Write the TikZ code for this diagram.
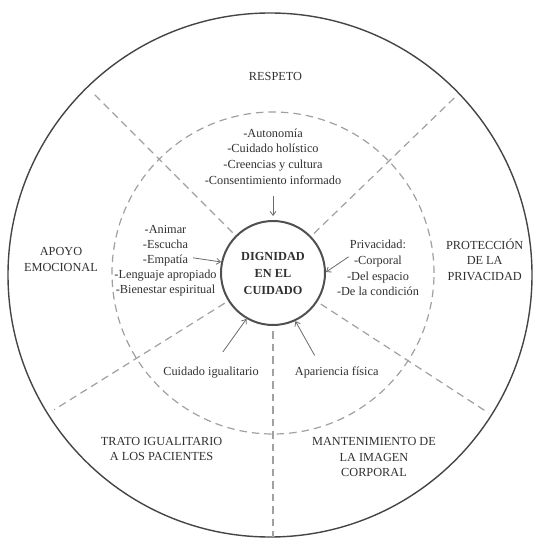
\documentclass[tikz,border=0pt]{standalone}
\usepackage{fontspec}
\setmainfont{Liberation Serif}
\usetikzlibrary{arrows.meta,calc}
\definecolor{txtc}{HTML}{303030}
\definecolor{outc}{HTML}{454545}
\definecolor{innc}{HTML}{505050}
\definecolor{dashc}{HTML}{A0A0A0}
\definecolor{arrc}{HTML}{6A6A6A}
\begin{document}
\begin{tikzpicture}[x=1pt,y=-1pt,
  txt/.style={align=center,text=txtc,font=\fontsize{12.3}{15.6}\selectfont,inner sep=0pt},
  listl/.style={align=center,text=txtc,font=\fontsize{12.3}{14.9}\selectfont,inner sep=0pt},
  dline/.style={draw=dashc,line width=1.2pt,dash pattern=on 7.5pt off 5pt},
  arr/.style={draw=arrc,line width=0.8pt,-{Straight Barb[length=4pt,width=6pt]}}]
\useasboundingbox (0,0) rectangle (534,540);
% outer circle
\coordinate (o) at (270,275);
\draw[outc,line width=1.4pt] (o) circle[radius=262pt];
% centre
\node[circle,draw=innc,line width=2pt,minimum size=104pt,inner sep=0pt,
      align=center,text=txtc,font=\bfseries\fontsize{12.3}{17}\selectfont] (c) at (273,273)
      {DIGNIDAD\\EN EL\\CUIDADO};
% dashed circle
\draw[dline] (c.center) circle[radius=161pt];
% radial dashed lines
\draw[dline] ($(c.center)+(135:57pt)$) -- ($(c.center)+(135:254pt)$);
\draw[dline] ($(c.center)+(44:57pt)$) -- ($(c.center)+(44:254pt)$);
\draw[dline] ($(c.center)+(212:57pt)$) -- ($(c.center)+(212:258pt)$);
\draw[dline] ($(c.center)+(327:57pt)$) -- ($(c.center)+(327:257pt)$);
\coordinate (bot) at (273,537);
\draw[dline] ($(c.center)+(270:58pt)$) -- (bot);
% texts
\node[txt] (resp) at (275.5,76.5) {RESPETO};
\node[txt] (top) at (273,156.5) {-Autonomía\\-Cuidado holístico\\-Creencias y cultura\\-Consentimiento informado};
\node[listl] (left) at (165.5,260.5) {-Animar\\-Escucha\\-Empatía\\-Lenguaje apropiado\\-Bienestar espiritual};
\node[txt] (right) at (378,268) {Privacidad:\\-Corporal\\-Del espacio\\-De la condición};
\node[txt] (igual) at (211,372.4) {Cuidado igualitario};
\node[txt] (apar) at (336.7,372.4) {Apariencia física};
\node[txt] (apoyo) at (61,259.7) {APOYO\\EMOCIONAL};
\node[txt] (prot) at (484.7,259.6) {PROTECCIÓN\\DE LA\\PRIVACIDAD};
\node[txt] (trato) at (161.6,449) {TRATO IGUALITARIO\\A LOS PACIENTES};
\node[txt] (mant) at (374,457) {MANTENIMIENTO DE\\LA IMAGEN\\CORPORAL};
% arrows
\coordinate (ts) at (273,196);
\coordinate (ls) at (193,257.8);
\coordinate (rs) at (348.6,256.8);
\coordinate (bls) at (222.8,352);
\coordinate (brs) at (314.6,355.4);
\draw[arr,shorten >=4pt] (ts) -- (c.north);
\draw[arr] (ls) -- (c.168);
\draw[arr] (rs) -- (c.1);
\draw[arr] (bls) -- (c.240);
\draw[arr] (brs) -- (c.295);
\end{tikzpicture}
\end{document}
